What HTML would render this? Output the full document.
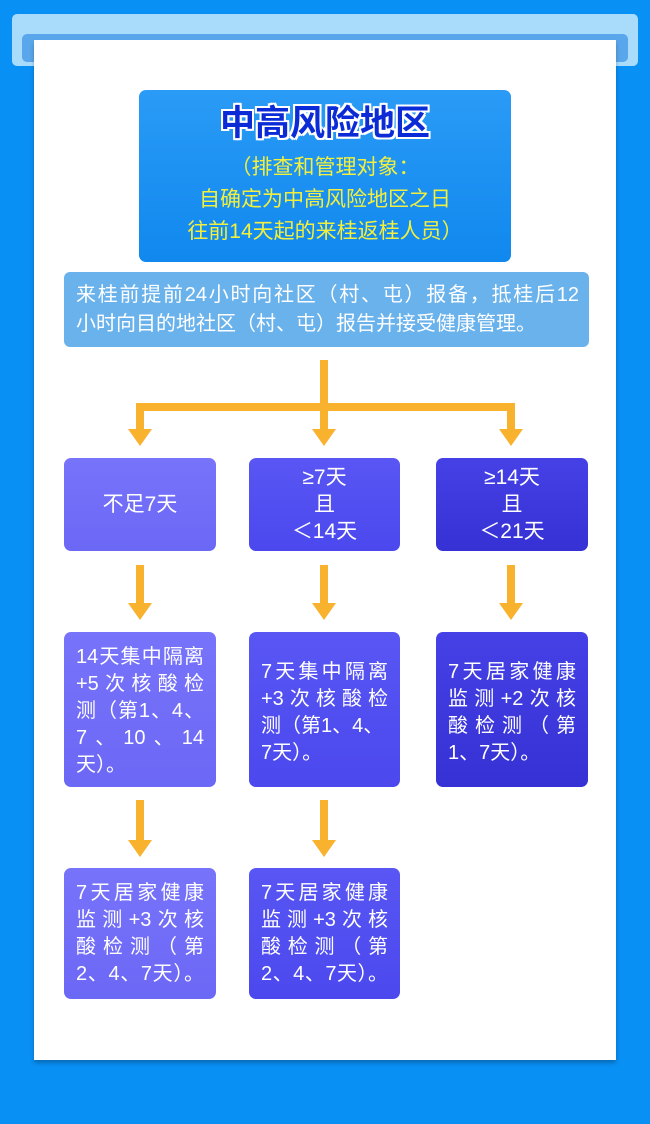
<!DOCTYPE html>
<html><head><meta charset="utf-8"><style>
*{margin:0;padding:0;box-sizing:border-box}
body{width:650px;height:1124px;background:#0990f5;position:relative;overflow:hidden;font-family:"Liberation Sans","Noto Sans CJK SC",sans-serif}
.a{position:absolute}
.bar1{left:12px;top:14px;width:626px;height:52px;background:#a9dcfb;border-radius:5px}
.bar2{left:22px;top:34px;width:606px;height:28px;background:#5aa6ec;border-radius:5px}
.panel{left:34px;top:40px;width:582px;height:1020px;background:#fff;box-shadow:0 3px 4px rgba(0,0,0,.25)}
.title{left:139px;top:90px;width:372px;height:172px;background:linear-gradient(#2a9bf6,#1088ee);border-radius:7px;text-align:center}
.t1{font-size:35px;font-weight:bold;color:#0b2bd6;margin-top:14px;line-height:40px;text-shadow:2px 0 #fff,-2px 0 #fff,0 2px #fff,0 -2px #fff,2px 2px #fff,-2px -2px #fff,2px -2px #fff,-2px 2px #fff}
.t2{color:#f2f03c;font-size:21px;line-height:32px;margin-top:8px}
.info{left:64px;top:272px;width:525px;height:75px;background:#6ab2ec;border-radius:6px;color:#fff;font-size:20px;line-height:29px;padding:9px 10px 0 12px}
.info div{text-align:justify;text-align-last:justify}
.box{position:absolute;border-radius:7px;color:#fff;font-size:19px}
.c1{background:linear-gradient(#7773fa,#6c68f6)}
.c2{background:linear-gradient(#5956f4,#4b48ee)}
.c3{background:linear-gradient(#4541e6,#3631d4)}
.ctr{display:flex;justify-content:center;align-items:center;line-height:27px;font-size:21px;text-align:center}
.txt{padding:12px 12px 0 12px;line-height:27px;font-size:20px}
.txt div{text-align:justify;text-align-last:justify;height:27px;white-space:nowrap}
.txt div.l{text-align-last:left}
</style></head><body>
<div class="a bar1"></div><div class="a bar2"></div>
<div class="a panel"></div>
<div class="a title"><div class="t1">中高风险地区</div><div class="t2">（排查和管理对象：<br>自确定为中高风险地区之日<br>往前14天起的来桂返桂人员）</div></div>
<div class="a info"><div>来桂前提前24小时向社区（村、屯）报备，抵桂后12</div><div style="text-align-last:left">小时向目的地社区（村、屯）报告并接受健康管理。</div></div>
<svg class="a" style="left:0;top:0" width="650" height="1124">
<g fill="#f8b22e">
<rect x="320" y="360" width="8" height="70"/>
<rect x="136" y="403" width="379" height="8"/>
<rect x="136" y="403" width="8" height="27"/>
<rect x="507" y="403" width="8" height="27"/>
<polygon points="128,429 152,429 140,446"/>
<polygon points="312,429 336,429 324,446"/>
<polygon points="499,429 523,429 511,446"/>
<rect x="136" y="565" width="8" height="40"/><polygon points="128,603 152,603 140,620"/>
<rect x="320" y="565" width="8" height="40"/><polygon points="312,603 336,603 324,620"/>
<rect x="507" y="565" width="8" height="40"/><polygon points="499,603 523,603 511,620"/>
<rect x="136" y="800" width="8" height="42"/><polygon points="128,840 152,840 140,857"/>
<rect x="320" y="800" width="8" height="42"/><polygon points="312,840 336,840 324,857"/>
</g></svg>
<div class="box c1 ctr" style="left:64px;top:458px;width:152px;height:93px"><div>不足7天</div></div>
<div class="box c2 ctr" style="left:249px;top:458px;width:151px;height:93px"><div>≥7天<br>且<br>＜14天</div></div>
<div class="box c3 ctr" style="left:436px;top:458px;width:152px;height:93px"><div>≥14天<br>且<br>＜21天</div></div>
<div class="box c1 txt" style="left:64px;top:632px;width:152px;height:155px"><div>14天集中隔离</div><div>+5次核酸检</div><div>测（第1、4、</div><div>7、10、14</div><div class="l">天）。</div></div>
<div class="box c2 txt" style="left:249px;top:632px;width:151px;height:155px;padding-top:27px"><div>7天集中隔离</div><div>+3次核酸检</div><div class="l">测（第1、4、</div><div class="l">7天）。</div></div>
<div class="box c3 txt" style="left:436px;top:632px;width:152px;height:155px;padding-top:27px"><div>7天居家健康</div><div>监测+2次核</div><div>酸检测（第</div><div class="l">1、7天）。</div></div>
<div class="box c1 txt" style="left:64px;top:868px;width:152px;height:131px;padding-top:12px"><div>7天居家健康</div><div>监测+3次核</div><div>酸检测（第</div><div>2、4、7天）。</div></div>
<div class="box c2 txt" style="left:249px;top:868px;width:151px;height:131px;padding-top:12px"><div>7天居家健康</div><div>监测+3次核</div><div>酸检测（第</div><div>2、4、7天）。</div></div>
</body></html>
